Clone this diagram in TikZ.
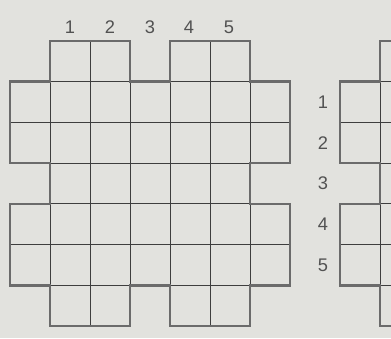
\documentclass[tikz,border=0pt]{standalone}
\usepackage{fontspec}
\setmainfont{Liberation Sans}
\usepackage{xcolor}
\usetikzlibrary{positioning}
\definecolor{paper}{RGB}{226,226,222}
\definecolor{ink}{RGB}{62,62,62}
\tikzset{
  cellline/.style={line width=0.6pt, draw=ink},
  rim/.style={line width=1.8pt, draw=black!58, line join=miter},
  number/.style={font=\fontsize{13}{13}\selectfont, text=black!68, inner sep=0pt}
}
\newcommand{\boardrim}{(1,0) -- (3,0) -- (3,1) -- (4,1) -- (4,0) -- (6,0) -- (6,1) -- (7,1)
  -- (7,3) -- (6,3) -- (6,4) -- (7,4) -- (7,6) -- (6,6) -- (6,7) -- (4,7) -- (4,6) -- (3,6)
  -- (3,7) -- (1,7) -- (1,6) -- (0,6) -- (0,4) -- (1,4) -- (1,3) -- (0,3) -- (0,1) -- (1,1) -- cycle}
\newcommand{\board}[3]{%
  \begin{scope}[shift={(#1,#2)}, x=1cm, y=-1.0175cm]
    \coordinate (#3) at (0,0);
    \begin{scope}
      \clip \boardrim;
      \draw[cellline] (0,1) -- (7,1) (0,2) -- (7,2) (0,3) -- (7,3)
                      (0,4) -- (7,4) (0,5) -- (7,5) (0,6) -- (7,6);
      \draw[cellline] (1,0) -- (1,7) (2,0) -- (2,7) (3,0) -- (3,7)
                      (4,0) -- (4,7) (5,0) -- (5,7) (6,0) -- (6,7);
    \end{scope}
    \draw[rim] \boardrim;
  \end{scope}
}

\begin{document}
\begin{tikzpicture}[x=0.025cm, y=-0.025cm]
        % Paper
        \fill[paper] (0,0) rectangle (391,338);
        \useasboundingbox (0,0) rectangle (391,338);
        \clip (0,0) rectangle (391,338);

        % Boards
        \board{10}{41}{left}
        \board{340}{41}{right}

        % Column numbers
        \node[number] (col1) at ( 70,27) {1};
        \node[number] (col2) at (110,27) {2};
        \node[number] (col3) at (150,27) {3};
        \node[number] (col4) at (189,27) {4};
        \node[number] (col5) at (229,27) {5};

        % Row numbers
        \node[number] (row1) at (323,102) {1};
        \node[number] (row2) at (323,143) {2};
        \node[number] (row3) at (323,183) {3};
        \node[number] (row4) at (323,224) {4};
        \node[number] (row5) at (323,265) {5};
    \end{tikzpicture}
\end{document}
